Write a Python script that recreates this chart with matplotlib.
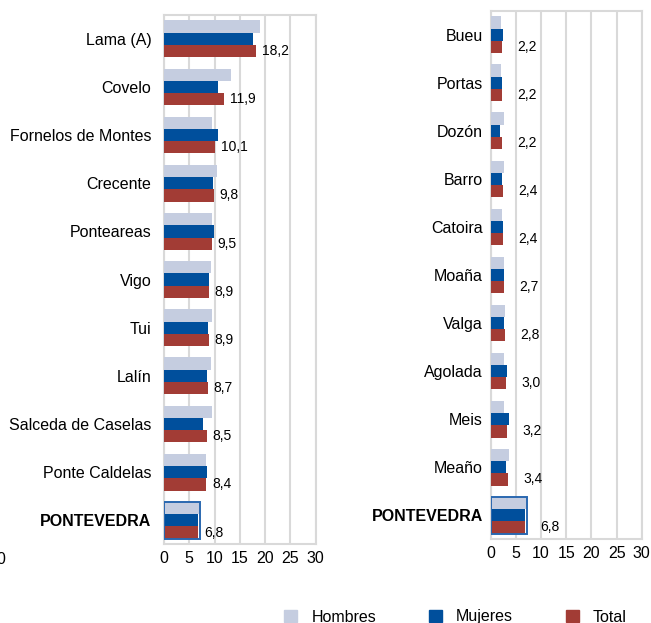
import matplotlib
matplotlib.use('Agg')
import matplotlib.pyplot as plt
from matplotlib.patches import Patch, Rectangle

plt.rcParams['font.family'] = ['Liberation Sans', 'DejaVu Sans']

# Datos: panel izquierdo (tasas más altas)
concellos_izq = ['Lama (A)', 'Covelo', 'Fornelos de Montes', 'Crecente', 'Ponteareas',
                 'Vigo', 'Tui', 'Lalín', 'Salceda de Caselas', 'Ponte Caldelas', 'PONTEVEDRA']
hombres_izq = [18.9, 13.3, 9.5, 10.4, 9.5, 9.3, 9.4, 9.2, 9.4, 8.3, 7.0]
mujeres_izq = [17.6, 10.7, 10.6, 9.6, 9.8, 8.9, 8.7, 8.5, 7.8, 8.6, 6.8]
total_izq = [18.2, 11.9, 10.1, 9.8, 9.5, 8.9, 8.9, 8.7, 8.5, 8.4, 6.8]

# Datos: panel derecho (tasas más bajas)
concellos_der = ['Bueu', 'Portas', 'Dozón', 'Barro', 'Catoira', 'Moaña', 'Valga',
                 'Agolada', 'Meis', 'Meaño', 'PONTEVEDRA']
hombres_der = [2.0, 2.0, 2.6, 2.6, 2.3, 2.7, 2.9, 2.7, 2.7, 3.6, 7.0]
mujeres_der = [2.4, 2.3, 1.8, 2.2, 2.5, 2.7, 2.6, 3.2, 3.6, 3.1, 6.8]
total_der = [2.2, 2.2, 2.2, 2.4, 2.4, 2.7, 2.8, 3.0, 3.2, 3.4, 6.8]

ticks_x = [0, 5, 10, 15, 20, 25, 30]

c_hombres = '#c5cde0'
c_mujeres = '#004f9c'
c_total = '#a23c35'
c_grid = '#d9d9d9'


def dibujar_panel(ax, nombres, h, m, t, pad_nombre, off_valor):
    alto = 0.255
    pos = list(range(len(nombres)))
    ax.barh([p - alto for p in pos], h, height=alto, color=c_hombres, zorder=3)
    ax.barh(pos, m, height=alto, color=c_mujeres, zorder=3)
    ax.barh([p + alto for p in pos], t, height=alto, color=c_total, zorder=3)
    for p, v in zip(pos, t):
        ax.annotate(f'{v:.1f}'.replace('.', ','), (v, p + alto), xytext=(off_valor, 0),
                    textcoords='offset points', va='center', ha='left', fontsize=10)
    # recuadro del total provincial
    ult = pos[-1]
    ancho = max(h[-1], m[-1], t[-1]) + 0.15
    ax.add_patch(Rectangle((0, ult - 1.5 * alto), ancho, 3 * alto, fill=False,
                           edgecolor='#2a68b0', lw=1.4, zorder=4))
    ax.set_xlim(0, 30)
    ax.set_ylim(len(nombres) - 0.5, -0.5)
    ax.set_xticks(ticks_x)
    ax.set_yticks(pos)
    ax.set_yticklabels(nombres)
    ax.get_yticklabels()[-1].set_fontweight('bold')
    ax.tick_params(axis='y', length=0, pad=pad_nombre, labelsize=11.5)
    ax.tick_params(axis='x', length=0, pad=5, labelsize=11.5)
    ax.grid(axis='x', color=c_grid, lw=1.5, zorder=0)
    for s in ax.spines.values():
        s.set_color(c_grid)
        s.set_linewidth(1.5)


fig = plt.figure(figsize=(6.51, 6.23), dpi=100)
ax1 = fig.add_axes([0.2519, 0.1263, 0.2330, 0.8501])
ax2 = fig.add_axes([0.7538, 0.1344, 0.2320, 0.8484])

dibujar_panel(ax1, concellos_izq, hombres_izq, mujeres_izq, total_izq, 9, 4)
dibujar_panel(ax2, concellos_der, hombres_der, mujeres_der, total_der, 5.5, 11)

# resto de un eje cortado en el borde izquierdo
fig.text(5 / 651, 1 - 560 / 623, '0', ha='right', va='center', fontsize=11.5)

handles = [Patch(color=c_hombres), Patch(color=c_mujeres), Patch(color=c_total)]
fig.legend(handles, ['Hombres', 'Mujeres', 'Total'], loc='center', ncol=3,
           bbox_to_anchor=(0.70, 1 - 617 / 623), frameon=False, fontsize=11.5,
           handlelength=0.8, handleheight=0.8, handletextpad=0.9, columnspacing=3.3,
           borderpad=0)

fig.savefig('out.png', dpi=100)
